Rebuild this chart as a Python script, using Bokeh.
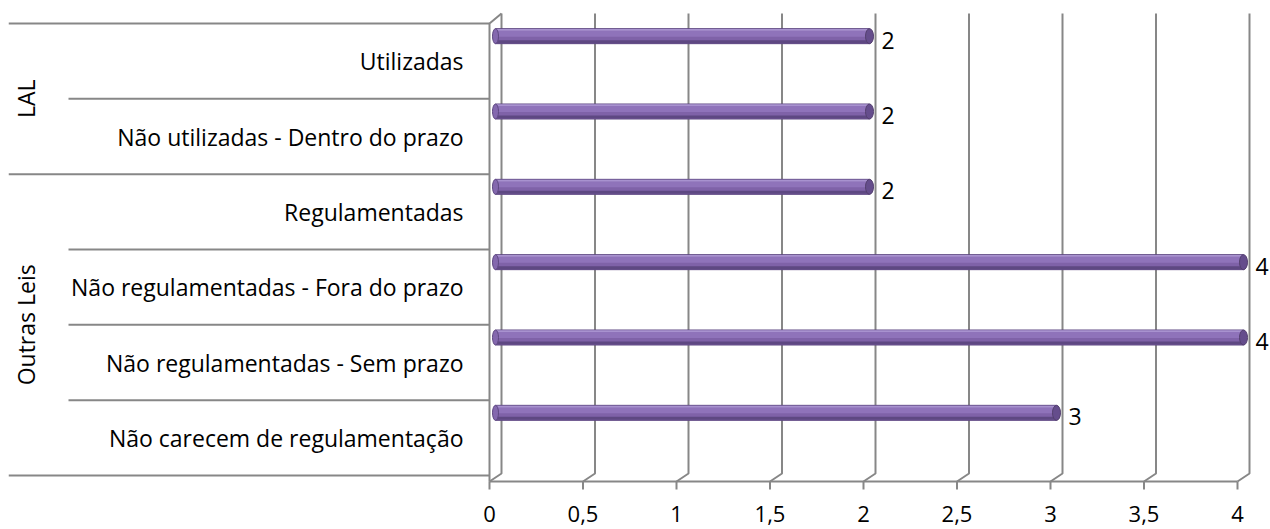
import math
from bokeh.plotting import figure
from bokeh.models import Range1d, ColumnDataSource
from bokeh.embed import file_html
from bokeh.resources import INLINE
from bokeh.core.properties import value

# ---------------- data ----------------
categories = [
    "Não carecem de regulamentação",
    "Não regulamentadas - Sem prazo",
    "Não regulamentadas - Fora do prazo",
    "Regulamentadas",
    "Não utilizadas - Dentro do prazo",
    "Utilizadas",
]
values = [3, 4, 4, 2, 2, 2]
groups = ["Outras Leis", "LAL"]
group_sizes = [4, 2]
tick_values = [0, 0.5, 1, 1.5, 2, 2.5, 3, 3.5, 4]
tick_labels = ["0", "0,5", "1", "1,5", "2", "2,5", "3", "3,5", "4"]

# ---------------- style constants ----------------
PXX = 187.0          # pixels per x unit
PXY = 75.333         # pixels per category band
FONT = "Open Sans"
FS = "23px"
GRID = "#878787"
n = len(categories)

def px_x(p):
    return p / PXX

def px_y(p):
    return p / PXY

p = figure(
    frame_width=1262, frame_height=521,
    x_range=Range1d(-481 / PXX, 781 / PXX),
    y_range=Range1d(-px_y(54), n + px_y(467 - 6 * PXY)),
    toolbar_location=None, output_backend="svg",
    x_axis_location=None, y_axis_location=None, min_border=0,
    min_border_left=8, min_border_top=8,
    background_fill_color="white", border_fill_color="white",
)
p.outline_line_color = None
p.xgrid.visible = False
p.ygrid.visible = False

# ---------------- 3D walls / grid ----------------
dx = px_x(12)
y_back_top = n + px_y(10)
y_back_bot = px_y(2)
y_front = -px_y(6)

xs, ys = [], []
for t in tick_values:
    xs.append([t + dx, t + dx, t])
    ys.append([y_back_top, y_back_bot, y_front])
p.multi_line(xs, ys, line_color=GRID, line_width=2)

# left wall front edge + top diagonal
p.multi_line([[0, 0, dx]], [[y_front, n, y_back_top]], line_color=GRID, line_width=2)

# floor front line (value axis) and its tick marks
p.segment(x0=[0], y0=[y_front], x1=[tick_values[-1]], y1=[y_front], line_color=GRID, line_width=2)
p.segment(x0=tick_values, y0=[y_front] * len(tick_values), x1=tick_values,
          y1=[y_front - px_y(8)] * len(tick_values), line_color=GRID, line_width=2)

# value-axis tick labels
p.text(x=tick_values, y=[-px_y(38)] * len(tick_values), text=tick_labels,
       text_align="center", text_baseline="middle", text_font=value(FONT),
       text_font_size="22px", text_color="black")

# category separators
left_full = -px_x(481)
left_part = -px_x(421)
bounds = [0]
for s in group_sizes:
    bounds.append(bounds[-1] + s)
sep_x0, sep_y = [], []
for k in range(n + 1):
    sep_x0.append(left_full if k in bounds else left_part)
    sep_y.append(k)
p.segment(x0=sep_x0, y0=sep_y, x1=[0] * len(sep_y), y1=sep_y, line_color=GRID, line_width=2)

# ---------------- bars (cylinder look) ----------------
depth = px_x(6)
ypos = [k + 0.5 + px_y(25) for k in range(n)]
src = ColumnDataSource(dict(
    y=ypos,
    left=[depth] * n,
    right=[v + depth for v in values],
    lab=[str(v) for v in values],
    yhi=[y + px_y(2.5) for y in ypos],
    ylo=[y - px_y(5.5) for y in ypos],
    ytop=[y + px_y(6.3) for y in ypos],
))
H = px_y(15)
p.hbar(y="y", left="left", right="right", height=H, source=src,
       fill_color="#7F62A8", line_color="#5E4882", line_width=1)
p.hbar(y="yhi", left="left", right="right", height=px_y(6), source=src,
       fill_color="#8F73BA", line_color=None)
p.hbar(y="ytop", left="left", right="right", height=px_y(1.8), source=src,
       fill_color="#A892CF", line_color=None)
p.hbar(y="ylo", left="left", right="right", height=px_y(3), source=src,
       fill_color="#5E4882", line_color=None)
p.ellipse(x="right", y="y", width=8, height=15, width_units="screen", height_units="screen",
          source=src, fill_color="#654D8C", line_color="#54406F", line_width=1)
p.ellipse(x="left", y="y", width=6, height=15, width_units="screen", height_units="screen",
          source=src, fill_color="#8468AE", line_color="#5E4882", line_width=1)

# value labels
p.text(x="right", y="y", text="lab", source=src, x_offset=12, y_offset=4,
       text_align="left", text_baseline="middle", text_font=value(FONT),
       text_font_size=FS, text_color="black")

# category labels
p.text(x=[-px_x(26)] * n, y=[k + 0.5 for k in range(n)], text=categories,
       text_align="right", text_baseline="middle", text_font=value(FONT),
       text_font_size=FS, text_color="black")

# group labels (vertical)
gy = []
for i, s in enumerate(group_sizes):
    gy.append((bounds[i] + bounds[i + 1]) / 2)
p.text(x=[-px_x(464)] * len(groups), y=gy, text=groups, angle=math.pi / 2,
       text_align="center", text_baseline="middle", text_font=value(FONT),
       text_font_size=FS, text_color="black")

open("out.html", "w").write(file_html(p, INLINE))
